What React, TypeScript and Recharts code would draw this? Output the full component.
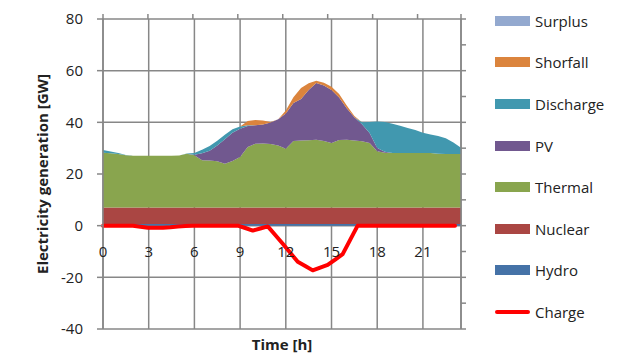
import { Area, CartesianGrid, ComposedChart, Line, XAxis, YAxis } from 'recharts'

// half-hourly time steps [h]
const hours = [
  0, 0.5, 1, 1.5, 2, 2.5, 3, 3.5, 4, 4.5, 5, 5.5,
  6, 6.5, 7, 7.5, 8, 8.5, 9, 9.5, 10, 10.5, 11, 11.5,
  12, 12.5, 13, 13.5, 14, 14.5, 15, 15.5, 16, 16.5, 17, 17.5,
  18, 18.5, 19, 19.5, 20, 20.5, 21, 21.5, 22, 22.5, 23, 23.5,
]

// generation [GW], stacked bottom to top
const hydro = [
  0.6, 0.6, 0.6, 0.6, 0.6, 0.6, 0.6, 0.6, 0.6, 0.6, 0.6, 0.6,
  0.6, 0.6, 0.6, 0.6, 0.6, 0.6, 0.6, 0.6, 0.6, 0.6, 0.6, 0.6,
  0.6, 0.6, 0.6, 0.6, 0.6, 0.6, 0.6, 0.6, 0.6, 0.6, 0.6, 0.6,
  0.6, 0.6, 0.6, 0.6, 0.6, 0.6, 0.6, 0.6, 0.6, 0.6, 0.6, 0.6,
]
const nuclear = [
  6.4, 6.4, 6.4, 6.4, 6.4, 6.4, 6.4, 6.4, 6.4, 6.4, 6.4, 6.4,
  6.4, 6.4, 6.4, 6.4, 6.4, 6.4, 6.4, 6.4, 6.4, 6.4, 6.4, 6.4,
  6.4, 6.4, 6.4, 6.4, 6.4, 6.4, 6.4, 6.4, 6.4, 6.4, 6.4, 6.4,
  6.4, 6.4, 6.4, 6.4, 6.4, 6.4, 6.4, 6.4, 6.4, 6.4, 6.4, 6.4,
]
const thermal = [
  21.2, 21.0, 20.7, 20.3, 20.1, 20.1, 20.1, 20.1, 20.1, 20.1, 20.2, 20.8,
  20.3, 18.3, 18.2, 17.9, 17.0, 18.0, 19.6, 23.5, 24.7, 24.8, 24.6, 24.0,
  22.8, 25.8, 26.0, 26.1, 26.3, 25.8, 25.0, 26.2, 26.3, 26.0, 25.7, 25.0,
  21.8, 21.2, 21.1, 21.1, 21.1, 21.1, 21.1, 21.1, 20.8, 20.7, 20.7, 20.7,
]
const pv = [
  0, 0, 0, 0, 0, 0, 0, 0, 0, 0, 0, 0,
  0.2, 2.7, 3.8, 6.1, 9.5, 11.0, 10.9, 8.1, 7.2, 7.4, 8.3, 10.2,
  13.6, 14.7, 16.0, 19.4, 21.9, 21.5, 20.5, 16.4, 12.2, 9.0, 6.6, 3.9,
  1.3, 0.4, 0, 0, 0, 0, 0, 0, 0, 0, 0, 0,
]
const discharge = [
  1.1, 0.7, 0.4, 0.1, 0, 0, 0, 0, 0, 0, 0, 0.1,
  0.6, 1.4, 1.8, 1.9, 1.7, 1.3, 0.9, 0.3, 0, 0, 0, 0,
  0, 0, 0, 0, 0, 0, 0, 0, 0, 0, 0.7, 4.2,
  10.2, 11.5, 11.4, 10.6, 9.7, 8.9, 7.9, 7.2, 6.9, 6.1, 4.5, 2.5,
]
const shortfall = [
  0, 0, 0, 0, 0, 0, 0, 0, 0, 0, 0, 0,
  0, 0, 0, 0, 0, 0, 0, 1.6, 2.0, 1.5, 0.2, 0,
  1.2, 2.2, 4.3, 2.6, 0.9, 1.0, 1.3, 1.4, 1.0, 0.5, 0, 0,
  0, 0, 0, 0, 0, 0, 0, 0, 0, 0, 0, 0,
]
const surplus = [
  0, 0, 0, 0, 0, 0, 0, 0, 0, 0, 0, 0,
  0, 0, 0, 0, 0, 0, 0, 0, 0, 0, 0, 0,
  0, 0, 0, 0, 0, 0, 0, 0, 0, 0, 0, 0,
  0, 0, 0, 0, 0, 0, 0, 0, 0, 0, 0, 0,
]
// storage charging, plotted on the secondary axes
const charge = [
  0, 0, 0, 0, 0, -0.4, -0.8, -0.8, -0.8, -0.6, -0.3, -0.1,
  0, 0, 0, 0, 0, 0, 0, -0.9, -1.9, -1.1, -0.3, -3.6,
  -7.0, -10.5, -14.0, -15.6, -17.3, -16.2, -15.2, -13.1, -11.0, -5.5, 0, 0,
  0, 0, 0, 0, 0, 0, 0, 0, 0, 0, 0, 0,
]

const xTicks = [0, 3, 6, 9, 12, 15, 18, 21]
const yTicks = [-40, -20, 0, 20, 40, 60, 80]
const yMinorTicks = [-40, -30, -20, -10, 0, 10, 20, 30, 40, 50, 60, 70, 80]
const X_MAX = 23.5
const X2_MAX = 23.9
const Y_MIN = -40
const Y_MAX = 80

const colors = {
  grid: '#878787',
  text: '#222222',
  surplus: '#93A9CF',
  shortfall: '#DB843D',
  discharge: '#4198AF',
  pv: '#71588F',
  thermal: '#89A54E',
  nuclear: '#AA4643',
  hydro: '#4572A7',
  charge: '#FF0000',
}

const legendItems = [
  { name: 'Surplus', color: colors.surplus, line: false },
  { name: 'Shorfall', color: colors.shortfall, line: false },
  { name: 'Discharge', color: colors.discharge, line: false },
  { name: 'PV', color: colors.pv, line: false },
  { name: 'Thermal', color: colors.thermal, line: false },
  { name: 'Nuclear', color: colors.nuclear, line: false },
  { name: 'Hydro', color: colors.hydro, line: false },
  { name: 'Charge', color: colors.charge, line: true },
]

const rows = hours.map((hour, i) => ({
  hour,
  hydro: hydro[i],
  nuclear: nuclear[i],
  thermal: thermal[i],
  pv: pv[i],
  discharge: discharge[i],
  shortfall: shortfall[i],
  surplus: surplus[i],
  charge: charge[i],
}))

const W = 618
const H = 364
const PLOT_TOP = 19
const PLOT_BOTTOM = 329
const PLOT_LEFT = 103
const PLOT_RIGHT = 461
const zeroY = PLOT_TOP + ((PLOT_BOTTOM - PLOT_TOP) * Y_MAX) / (Y_MAX - Y_MIN)
const FONT = '"Open Sans", sans-serif'

// Excel puts the category labels next to the zero line
function HourTick({ x, payload }: any) {
  if (payload.value > 21) return <g />
  return (
    <text x={x} y={zeroY + 31} textAnchor="middle" fill={colors.text} fontSize={15} fontFamily={FONT}>
      {payload.value}
    </text>
  )
}

const NoTick = () => <g />

function YTitle() {
  const cy = (PLOT_TOP + PLOT_BOTTOM) / 2
  return (
    <text
      transform={`translate(48, ${cy}) rotate(-90)`}
      textAnchor="middle"
      fill={colors.text}
      fontSize={15}
      fontWeight="bold"
      fontFamily={FONT}
    >
      Electricity generation [GW]
    </text>
  )
}

function XTitle() {
  return (
    <text
      x={(PLOT_LEFT + PLOT_RIGHT) / 2}
      y={350}
      textAnchor="middle"
      fill={colors.text}
      fontSize={15}
      fontWeight="bold"
      fontFamily={FONT}
    >
      Time [h]
    </text>
  )
}

function ChartLegend() {
  return (
    <div style={{ position: 'absolute', left: 495, top: 0, fontFamily: FONT, fontSize: 15, color: colors.text }}>
      {legendItems.map((item) => (
        <div key={item.name} style={{ display: 'flex', alignItems: 'center', height: 41.6 }}>
          <div
            style={{
              width: 35,
              height: item.line ? 4 : 10,
              background: item.color,
              borderRadius: item.line ? 2 : 0,
              marginRight: 5,
            }}
          />
          <span>{item.name}</span>
        </div>
      ))}
    </div>
  )
}

export default function App() {
  return (
    <div style={{ position: 'absolute', left: 0, top: 0, width: W, height: H, fontFamily: FONT }}>
      <ComposedChart
        width={W}
        height={H}
        data={rows}
        margin={{ top: PLOT_TOP - 5, right: W - PLOT_RIGHT - 8, bottom: 0, left: 0 }}
      >
        <CartesianGrid xAxisId="main" yAxisId="left" stroke={colors.grid} strokeWidth={1.5} />
        <XAxis
          xAxisId="main"
          dataKey="hour"
          type="number"
          domain={[0, X_MAX]}
          ticks={[...xTicks, X_MAX]}
          height={H - PLOT_BOTTOM}
          axisLine={false}
          tickLine={false}
          tick={<HourTick />}
          label={<XTitle />}
        />
        <XAxis
          xAxisId="sec"
          dataKey="hour"
          type="number"
          orientation="top"
          domain={[0, X2_MAX]}
          ticks={[...xTicks, X2_MAX]}
          height={5}
          tickSize={5}
          axisLine={false}
          tickLine={{ stroke: colors.grid, strokeWidth: 1.5 }}
          tick={<NoTick />}
        />
        <YAxis
          yAxisId="left"
          domain={[Y_MIN, Y_MAX]}
          ticks={yTicks}
          width={PLOT_LEFT}
          tickSize={6}
          tickMargin={14}
          axisLine={{ stroke: colors.grid, strokeWidth: 1.5 }}
          tickLine={{ stroke: colors.grid, strokeWidth: 1.5 }}
          tick={{ fill: colors.text, fontSize: 15, fontFamily: FONT }}
          label={<YTitle />}
        />
        <YAxis
          yAxisId="right"
          orientation="right"
          domain={[Y_MIN, Y_MAX]}
          ticks={yMinorTicks}
          width={8}
          tickSize={5}
          axisLine={{ stroke: colors.grid, strokeWidth: 1.5 }}
          tickLine={{ stroke: colors.grid, strokeWidth: 1.5 }}
          tick={<NoTick />}
        />
        <Area xAxisId="main" yAxisId="left" type="linear" dataKey="hydro" name="Hydro" stackId="gen" stroke="none" fill={colors.hydro} fillOpacity={1} isAnimationActive={false} />
        <Area xAxisId="main" yAxisId="left" type="linear" dataKey="nuclear" name="Nuclear" stackId="gen" stroke="none" fill={colors.nuclear} fillOpacity={1} isAnimationActive={false} />
        <Area xAxisId="main" yAxisId="left" type="linear" dataKey="thermal" name="Thermal" stackId="gen" stroke="none" fill={colors.thermal} fillOpacity={1} isAnimationActive={false} />
        <Area xAxisId="main" yAxisId="left" type="linear" dataKey="pv" name="PV" stackId="gen" stroke="none" fill={colors.pv} fillOpacity={1} isAnimationActive={false} />
        <Area xAxisId="main" yAxisId="left" type="linear" dataKey="discharge" name="Discharge" stackId="gen" stroke="none" fill={colors.discharge} fillOpacity={1} isAnimationActive={false} />
        <Area xAxisId="main" yAxisId="left" type="linear" dataKey="shortfall" name="Shorfall" stackId="gen" stroke="none" fill={colors.shortfall} fillOpacity={1} isAnimationActive={false} />
        <Area xAxisId="main" yAxisId="left" type="linear" dataKey="surplus" name="Surplus" stackId="gen" stroke="none" fill={colors.surplus} fillOpacity={1} isAnimationActive={false} />
        <Line
          xAxisId="sec"
          yAxisId="right"
          type="linear"
          dataKey="charge"
          name="Charge"
          stroke={colors.charge}
          strokeWidth={4}
          strokeLinejoin="round"
          strokeLinecap="round"
          dot={false}
          activeDot={false}
          isAnimationActive={false}
        />
      </ComposedChart>
      <ChartLegend />
    </div>
  )
}
